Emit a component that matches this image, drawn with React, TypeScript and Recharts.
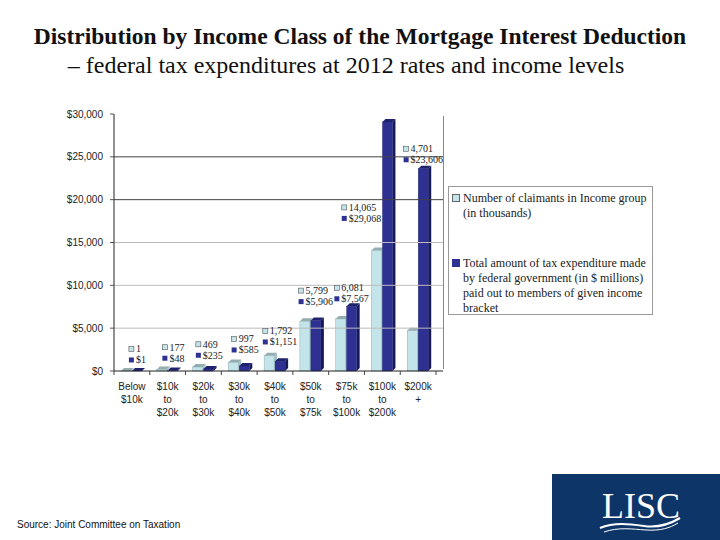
import React from "react";
import { BarChart, Bar, XAxis, YAxis, ReferenceLine, LabelList, Legend } from "recharts";

const categories = [
  "Below $10k",
  "$10k to $20k",
  "$20k to $30k",
  "$30k to $40k",
  "$40k to $50k",
  "$50k to $75k",
  "$75k to $100k",
  "$100k to $200k",
  "$200k +",
];
const tickLines = [
  ["Below", "$10k"],
  ["$10k", "to", "$20k"],
  ["$20k", "to", "$30k"],
  ["$30k", "to", "$40k"],
  ["$40k", "to", "$50k"],
  ["$50k", "to", "$75k"],
  ["$75k", "to", "$100k"],
  ["$100k", "to", "$200k"],
  ["$200k", "+"],
];
// claimants in thousands, amounts in $ millions
const claimants = [1, 177, 469, 997, 1792, 5799, 6081, 14065, 4701];
const amounts = [1, 48, 235, 585, 1151, 5906, 7567, 29068, 23606];
const yTicks = [0, 5000, 10000, 15000, 20000, 25000, 30000];
const legendLines = [
  ["Number of claimants in Income group", "(in thousands)"],
  [
    "Total amount of tax expenditure made",
    "by federal government (in $ millions)",
    "paid out to members of given income",
    "bracket",
  ],
];

const data = categories.map((c, i) => ({
  name: c,
  claimants: claimants[i],
  amount: amounts[i],
}));

const LIGHT = "#c3e5ea";
const DARK = "#2e3192";
const SERIF = "'Liberation Serif', 'Times New Roman', serif";
const SANS = "'Liberation Sans', Arial, sans-serif";

const PLOT_TOP = 114;
const PLOT_BOTTOM = 371;
const PLOT_H = PLOT_BOTTOM - PLOT_TOP;
const Y_MAX = 30000;
const PAD_RIGHT = 7;
const PLOT_LEFT = 114;
const PLOT_RIGHT = 443;
const BW = (PLOT_RIGHT - PAD_RIGHT - PLOT_LEFT) / categories.length;
const BAR_GAP = 1;

const fmt = (v: number) => v.toLocaleString("en-US");

function makeBox(top: string, side: string, stroke: string) {
  return (p: any) => {
    const { x, y, width, height } = p;
    if (!width || height == null) return null;
    const d = 3;
    const r = 3;
    return (
      <g>
        <polygon
          points={`${x + width},${y} ${x + width + d},${y - r} ${x + width + d},${y + height - r} ${x + width},${y + height}`}
          fill={side}
        />
        <polygon
          points={`${x},${y} ${x + d},${y - r} ${x + width + d},${y - r} ${x + width},${y}`}
          fill={top}
        />
        <rect x={x} y={y} width={width} height={height} fill={p.fill} stroke={stroke} strokeWidth={0.4} />
      </g>
    );
  };
}

const lightShape = makeBox("#93adb1", "#a3c4c8", "#7f9ea2");
const darkShape = makeBox("#20236c", "#181a58", "#1f2270");

function PairLabel(props: any) {
  const vb = props.viewBox || {};
  const x = props.x ?? vb.x;
  const y = props.y ?? vb.y;
  const width = props.width ?? vb.width;
  const i = props.index;
  if (x == null || i == null) return null;
  const t1 = fmt(claimants[i]);
  const t2 = "$" + fmt(amounts[i]);
  const center = x + width + BAR_GAP / 2;
  const darkTop = PLOT_BOTTOM - (amounts[i] / Y_MAX) * PLOT_H;
  const blockW = 8 + Math.max(t1.length, t2.length) * 4.6;
  let anchor = y - (22 + claimants[i] * 0.0015);
  let lx = center + 6 - blockW / 2;
  if (darkTop < anchor + 8) {
    if (darkTop - 32 >= PLOT_TOP) anchor = darkTop - 20;
    else lx = center - blockW;
  }
  const style = { fontFamily: SERIF, fontSize: 10, fill: "#222" } as const;
  return (
    <g>
      <rect x={lx} y={anchor - 2.5} width={5} height={5} fill={LIGHT} stroke="#555" strokeWidth={0.6} />
      <text x={lx + 7} y={anchor + 3.5} {...style}>{t1}</text>
      <rect x={lx} y={anchor + 8.5} width={5} height={5} fill={DARK} />
      <text x={lx + 7} y={anchor + 14.5} {...style}>{t2}</text>
    </g>
  );
}

function XTick(props: any) {
  const { x, payload } = props;
  const i = payload?.index ?? props.index ?? 0;
  const lines = tickLines[i] || [];
  const left = x - BW / 2;
  return (
    <g>
      {lines.map((l, k) => (
        <text
          key={k}
          x={x}
          y={PLOT_BOTTOM + 19 + k * 13}
          textAnchor="middle"
          fontFamily={SANS}
          fontSize={10}
          fill="#222"
        >
          {l}
        </text>
      ))}
      <line x1={left} x2={left} y1={PLOT_BOTTOM} y2={PLOT_BOTTOM + 4} stroke="#444" />
      {i === categories.length - 1 && (
        <line x1={x + BW / 2} x2={x + BW / 2} y1={PLOT_BOTTOM} y2={PLOT_BOTTOM + 4} stroke="#444" />
      )}
    </g>
  );
}

function LegendBox(props: any) {
  const payload = props.payload || [];
  return (
    <div
      style={{
        border: "1px solid #9a9a9a",
        width: 205,
        height: 129,
        boxSizing: "border-box",
        background: "#fff",
        fontFamily: SERIF,
        fontSize: 12,
        color: "#222",
        lineHeight: "15px",
        paddingTop: 4,
        paddingLeft: 3,
      }}
    >
      {payload.map((e: any, k: number) => (
        <div key={k} style={{ display: "flex", marginTop: k === 0 ? 0 : 35 }}>
          <div
            style={{
              width: 8,
              height: 8,
              marginTop: 3,
              marginRight: 3,
              background: e.color,
              border: k === 0 ? "1px solid #666" : "1px solid " + DARK,
              boxSizing: "border-box",
              flexShrink: 0,
            }}
          />
          <div>
            {legendLines[k].map((l, j) => (
              <div key={j} style={{ whiteSpace: "nowrap" }}>{l}</div>
            ))}
          </div>
        </div>
      ))}
    </div>
  );
}

export default function App() {
  return (
    <div style={{ position: "absolute", left: 0, top: 0, width: 720, height: 540, background: "#fff", overflow: "hidden" }}>
      <div
        style={{
          position: "absolute",
          top: 23,
          width: 720,
          textAlign: "center",
          fontFamily: SERIF,
          fontWeight: "bold",
          fontSize: 23.5,
          color: "#111",
          whiteSpace: "nowrap",
        }}
      >
        Distribution by Income Class of the Mortgage Interest Deduction
      </div>
      <div
        style={{
          position: "absolute",
          top: 52,
          left: -14,
          width: 720,
          textAlign: "center",
          fontFamily: SERIF,
          fontSize: 24,
          color: "#111",
          whiteSpace: "nowrap",
        }}
      >
        – federal tax expenditures at 2012 rates and income levels
      </div>

      <div style={{ position: "absolute", left: 0, top: 0 }}>
        <BarChart
          width={720}
          height={540}
          data={data}
          margin={{ top: PLOT_TOP, right: 720 - PLOT_RIGHT, bottom: 540 - PLOT_BOTTOM - 30, left: PLOT_LEFT - 60 }}
          barSize={10}
          barGap={BAR_GAP}
        >
          <XAxis
            dataKey="name"
            height={30}
            padding={{ left: 0, right: PAD_RIGHT }}
            tickLine={false}
            axisLine={{ stroke: "#222" }}
            tick={<XTick />}
            interval={0}
          />
          <YAxis
            width={60}
            domain={[0, Y_MAX]}
            ticks={yTicks}
            tickFormatter={(v: number) => "$" + fmt(v)}
            tick={{ fontFamily: SANS, fontSize: 10, fill: "#222" }}
            tickSize={4}
            tickMargin={7}
            tickLine={{ stroke: "#555" }}
            axisLine={{ stroke: "#222" }}
          />
          {yTicks
            .filter((v) => v > 0 && v < Y_MAX)
            .map((v) => (
              <ReferenceLine key={v} y={v} stroke={v >= 20000 ? "#444" : "#bbb"} strokeWidth={1} />
            ))}
          <Legend
            layout="vertical"
            align="center"
            verticalAlign="middle"
            content={<LegendBox />}
            wrapperStyle={{ left: 448, top: 186, width: 205, height: 129 }}
          />
          <Bar
            dataKey="claimants"
            name={legendLines[0].join(" ")}
            fill={LIGHT}
            shape={lightShape}
            isAnimationActive={false}
          >
            <LabelList dataKey="claimants" content={<PairLabel />} />
          </Bar>
          <Bar
            dataKey="amount"
            name={legendLines[1].join(" ")}
            fill={DARK}
            shape={darkShape}
            isAnimationActive={false}
          />
        </BarChart>
      </div>
      <div style={{ position: "absolute", left: PLOT_RIGHT, top: 116, width: 1, height: PLOT_BOTTOM - 118, background: "#888" }} />

      <div style={{ position: "absolute", left: 17, top: 519, fontFamily: SANS, fontSize: 10, color: "#111" }}>
        Source: Joint Committee on Taxation
      </div>

      <div style={{ position: "absolute", left: 552, top: 474, width: 168, height: 66, background: "#0d3568" }}>
        <svg width={168} height={66}>
          <text x={89} y={44} textAnchor="middle" fontFamily={SERIF} fontSize={36} fill="#fff">
            LISC
          </text>
          <path d="M48 54 C62 48 78 50 92 52 C106 54 118 50 128 44" stroke="#fff" strokeWidth={2.2} fill="none" />
          <path d="M52 58 C66 53 80 55 94 56 C108 57 118 54 126 49" stroke="#fff" strokeWidth={1} fill="none" />
        </svg>
      </div>
    </div>
  );
}
